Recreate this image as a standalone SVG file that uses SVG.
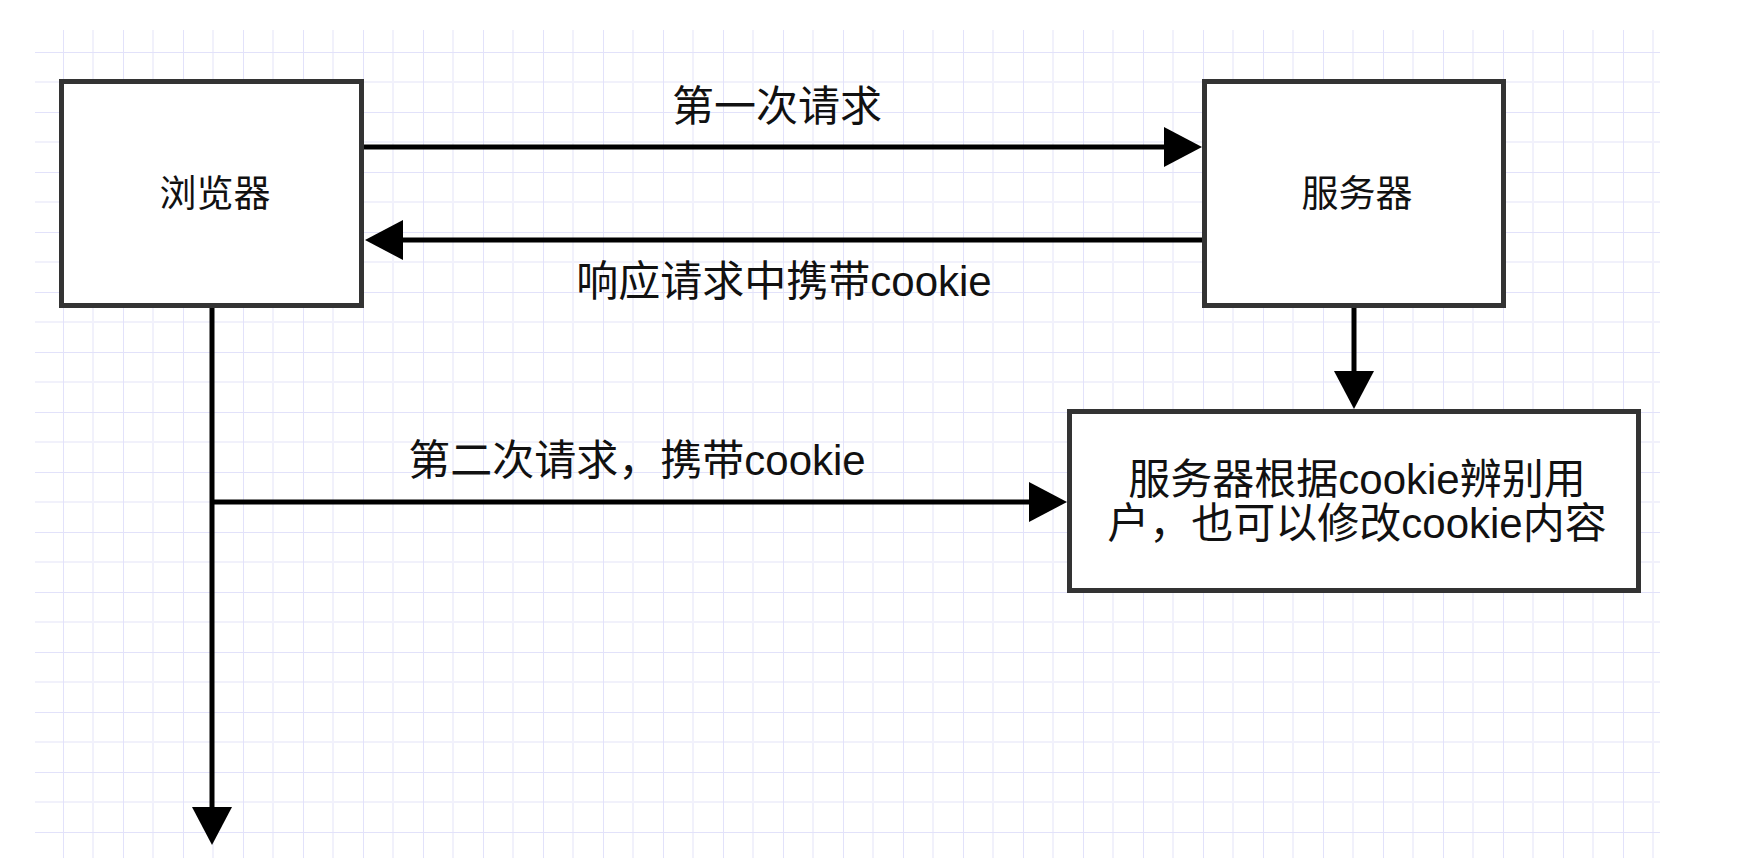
<svg xmlns="http://www.w3.org/2000/svg" width="1754" height="858" viewBox="0 0 1754 858">
  <style>
    .node rect { fill: #ffffff; stroke: #333333; stroke-width: 5; }
    .label { font-family: "Liberation Sans", "Noto Sans CJK SC", sans-serif; fill: #111111; text-anchor: middle; }
    .node-label { font-size: 37px; }
    .edge-label { font-size: 42px; }
    .box-label { font-size: 42px; }
    .edge { fill: none; stroke: #000000; stroke-width: 5; marker-end: url(#arrow); }
  </style>
  <defs>
    <marker id="arrow" markerUnits="userSpaceOnUse" viewBox="0 0 38 40" markerWidth="38" markerHeight="40" refX="0" refY="20" orient="auto">
      <path d="M0,0 L38,20 L0,40 Z" fill="#000000"/>
    </marker>
    <pattern id="grid" patternUnits="userSpaceOnUse" x="3" y="-8" width="60" height="60">
      <path d="M30,0 V60 M0,30 H60" stroke="#f1f1fb" stroke-width="2" fill="none"/>
      <path d="M0,0 V60 M0,0 H60" stroke="#e2e2fa" stroke-width="2" fill="none"/>
    </pattern>
  </defs>

  <rect width="1754" height="858" fill="#ffffff"/>
  <rect x="35" y="30" width="1625" height="828" fill="url(#grid)"/>

  <!-- connectors -->
  <g id="connectors">
    <path class="edge" d="M364,147 H1164"/>
    <path class="edge" d="M1202,240 H403"/>
    <path class="edge" d="M212,308 V807"/>
    <path class="edge" d="M212,502 H1029"/>
    <path class="edge" d="M1354,308 V371"/>
    <text class="label edge-label" x="777" y="121">第一次请求</text>
    <text class="label edge-label" x="784" y="296">响应请求中携带cookie</text>
    <text class="label edge-label" x="637" y="475">第二次请求，携带cookie</text>
  </g>

  <g id="browser" class="node">
    <rect x="61.5" y="81.5" width="300" height="224"/>
    <text class="label node-label" x="215" y="207">浏览器</text>
  </g>

  <g id="server" class="node">
    <rect x="1204.5" y="81.5" width="299" height="224"/>
    <text class="label node-label" x="1357" y="207">服务器</text>
  </g>

  <g id="identify" class="node">
    <rect x="1069.5" y="411.5" width="569" height="179"/>
    <text class="label box-label" x="1357" y="494">服务器根据cookie辨别用</text>
    <text class="label box-label" x="1357" y="538">户，也可以修改cookie内容</text>
  </g>
</svg>
